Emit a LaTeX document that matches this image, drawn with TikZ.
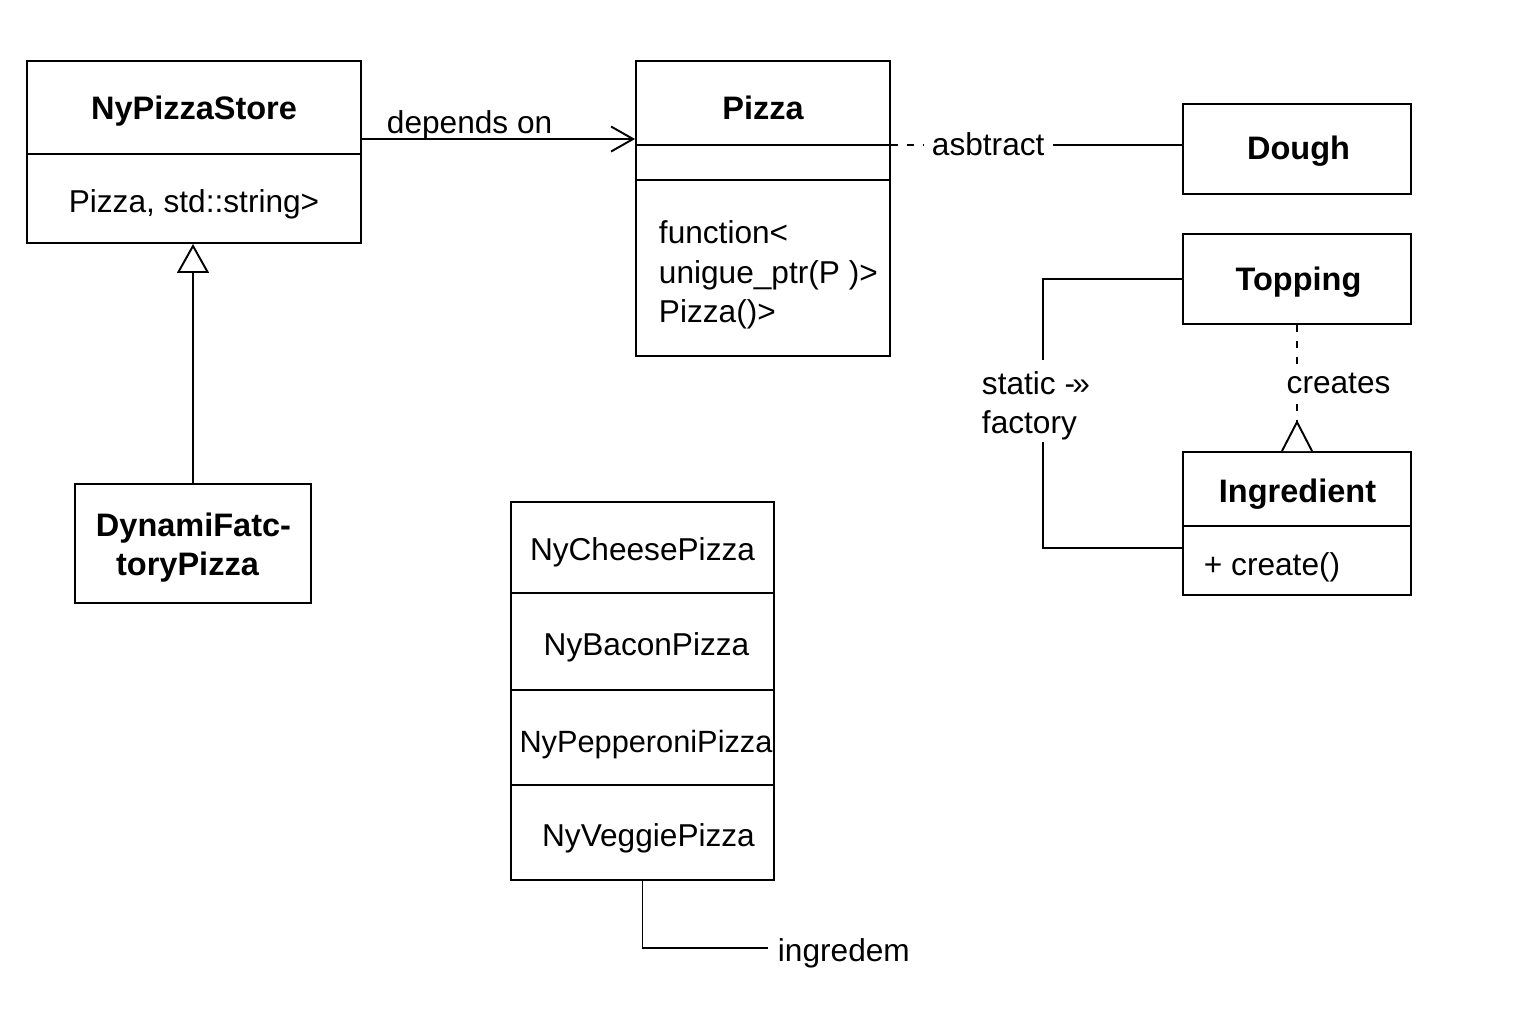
\documentclass[tikz,border=0pt]{standalone}
\usepackage{fontspec}
\setmainfont{Liberation Sans}
\usetikzlibrary{arrows.meta,calc}
\tikzset{
  box/.style={draw, rectangle, inner sep=0pt},
  bw/.style={minimum width=#1*0.02cm},
  bh/.style={minimum height=#1*0.02cm},
  lbl/.style={inner sep=0pt, font=\fontsize{18}{22}\selectfont, anchor=base},
  lblw/.style={lbl, anchor=base west},
  ttl/.style={inner sep=0pt, anchor=base, font=\fontsize{18.5}{22}\selectfont\bfseries},
  dsh/.style={dash pattern=on 4pt off 5pt}
}
\begin{document}
\begin{tikzpicture}[x=0.02cm, y=-0.02cm, line width=1.1pt]
\useasboundingbox[fill=white] (0,0) rectangle (1536,1024);

% NyPizzaStore
\node[box, bw=334, bh=182] (store) at (194,152) {};
\draw ($(store.north west)+(0,94)$) -- ($(store.north east)+(0,94)$);
\node[ttl] (storet) at (194,120) {NyPizzaStore};
\node[lbl] (storea) at (194,213) {Pizza, std::string>};

% Pizza
\node[box, bw=254, bh=295] (pizza) at (763,208.5) {};
\draw ($(pizza.north west)+(0,85)$) coordinate (pzl) -- ($(pizza.north east)+(0,85)$) coordinate (pzr);
\draw ($(pizza.north west)+(0,120)$) -- ($(pizza.north east)+(0,120)$);
\node[ttl] (pizzat) at (763,120) {Pizza};
\node[lblw] (pf1) at (658,243) {function<};
\node[lblw] (pf2) at (658,283) {unigue\_ptr(P )>};
\node[lblw] (pf3) at (658,322) {Pizza()>};

% depends on
\coordinate (dep1) at ($(store.north east)+(0,79)$);
\draw[-{Straight Barb[length=0.44cm,width=0.5cm]}] (dep1) -- (pizza.west|-dep1);
\node[lblw] (dept) at (386,133) {depends on};

% Dough
\node[box, bw=228, bh=90] (dough) at (1297,149) {};
\node[ttl] (dought) at (1298.5,160) {Dough};

% asbtract
\node[lblw, inner xsep=0.16cm] (abs) at (923,155) {asbtract};
\draw[dsh] (pzr) -- (abs.west|-pzr);
\draw (abs.east|-pzr) -- (dough.west|-pzr);

% Topping
\node[box, bw=228, bh=90] (top) at (1297,279) {};
\node[ttl] (topt) at (1298.5,290) {Topping};

% Ingredient
\node[box, bw=228, bh=143] (ing) at (1297,523.5) {};
\draw ($(ing.north west)+(0,75)$) -- ($(ing.north east)+(0,75)$);
\node[ttl] (ingt) at (1297.5,502) {Ingredient};
\node[lblw] (ingc) at (1203,575) {+ create()};

% creates
\coordinate (tri) at (1297,422);
\draw[dsh] (top.south) -- (tri);
\draw[fill=white, line join=miter] ($(ing.north)+(-15,0)$) -- (tri) -- ($(ing.north)+(15,0)$);
\node[lblw, fill=white, inner sep=1pt] (cre) at (1284,393) {creates};

% static factory
\coordinate (sf1) at (1043,360);
\coordinate (sf2) at (1043,442);
\coordinate (ingl) at ($(ing.south west)+(0,-48)$);
\draw (top.west) -| (sf1);
\draw (sf2) |- (ingl);
\node[lblw] (sft1) at (981,394) {static -\kern-1.5pt»};
\node[lblw] (sft2) at (981,433) {factory};

% DynamiFatctoryPizza
\node[box, bw=236, bh=119] (dyn) at (193,543.5) {};
\node[ttl] (dynt1) at (193.5,536) {DynamiFatc-};
\node[ttl] (dynt2) at (187.5,575) {toryPizza};
\draw[-{Triangle[open,length=0.58cm,width=0.64cm]}] (dyn.north) -- (dyn.north|-store.south);

% Pizza stack
\node[box, bw=263, bh=378] (stack) at (642.5,691) {};
\draw ($(stack.north west)+(0,92)$) -- ($(stack.north east)+(0,92)$);
\draw ($(stack.north west)+(0,189)$) -- ($(stack.north east)+(0,189)$);
\draw ($(stack.north west)+(0,284)$) -- ($(stack.north east)+(0,284)$);
\node[lbl] (s1) at (642.5,560) {NyCheesePizza};
\node[lbl] (s2) at (646.5,655) {NyBaconPizza};
\node[lbl, font=\fontsize{17.5}{22}\selectfont] (s3) at (646,752) {NyPepperoniPizza};
\node[lbl] (s4) at (648.5,846) {NyVeggiePizza};

% ingredem
\coordinate (ingend) at (768,948);
\draw (stack.south) |- (ingend);
\node[lblw] (ingr) at (777,961) {ingredem};
\end{tikzpicture}
\end{document}
